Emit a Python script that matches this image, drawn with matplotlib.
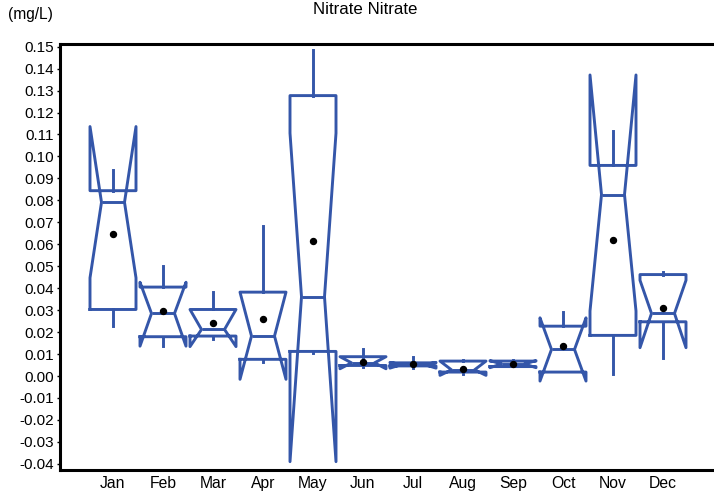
import matplotlib
matplotlib.use("Agg")
import matplotlib.pyplot as plt

plt.rcParams['font.family'] = ['Liberation Sans', 'DejaVu Sans']
plt.rcParams['axes.unicode_minus'] = False

months = ['Jan', 'Feb', 'Mar', 'Apr', 'May', 'Jun', 'Jul', 'Aug', 'Sep', 'Oct', 'Nov', 'Dec']
# box stats (mg/L)
q1     = [0.0303, 0.0179, 0.0182, 0.0076, 0.0112, 0.0048, 0.0046, 0.0018, 0.0043, 0.0018, 0.0185, 0.0247]
q3     = [0.0844, 0.0405, 0.0303, 0.0382, 0.1277, 0.0088, 0.0060, 0.0068, 0.0068, 0.0227, 0.0959, 0.0462]
median = [0.0791, 0.0285, 0.0212, 0.0182, 0.0361, 0.0060, 0.0052, 0.0028, 0.0055, 0.0121, 0.0826, 0.0285]
ci_lo  = [0.0447, 0.0136, 0.0134, -0.0015, -0.0390, 0.0033, 0.0036, 0.0003, 0.0038, -0.0023, 0.0296, 0.0129]
ci_hi  = [0.1136, 0.0427, 0.0303, 0.0382, 0.1106, 0.0088, 0.0062, 0.0068, 0.0070, 0.0265, 0.1371, 0.0436]
whis_lo = [0.0230, 0.0136, 0.0167, 0.0065, 0.0106, 0.0040, 0.0036, 0.0010, 0.0040, 0.0018, 0.0011, 0.0084]
whis_hi = [0.0940, 0.0503, 0.0382, 0.0685, 0.1485, 0.0121, 0.0088, 0.0075, 0.0075, 0.0293, 0.1114, 0.0473]
mean   = [0.0647, 0.0297, 0.0243, 0.0258, 0.0617, 0.0064, 0.0053, 0.0034, 0.0053, 0.0135, 0.0621, 0.0309]

stats = []
for i in range(len(months)):
    stats.append(dict(med=median[i], q1=q1[i], q3=q3[i], cilo=ci_lo[i], cihi=ci_hi[i],
                      whislo=whis_lo[i], whishi=whis_hi[i], mean=mean[i], fliers=[], label=months[i]))

blue = '#3456a9'
fig = plt.figure(figsize=(7.14, 4.93), dpi=100)
ax = fig.add_axes([60/714, 1-470/493, 1-60/714, (470-44)/493])

lp = dict(color=blue, linewidth=2.1)
ax.bxp(stats, positions=range(1, 13), widths=0.92, shownotches=True, showmeans=True,
       showcaps=False, showfliers=False,
       boxprops=lp, whiskerprops=lp, medianprops=lp,
       meanprops=dict(marker='o', markerfacecolor='black', markeredgecolor='black', markersize=4.3))

ax.set_xlim(-0.06, 13.02)
ax.set_ylim(-0.0428, 0.1512)
ax.set_yticks([i/100 for i in range(-4, 16)])
ax.set_yticklabels(['%.2f' % (i/100) for i in range(-4, 16)], fontsize=11)
ax.set_xticks(range(1, 13))
ax.set_xticklabels(months, fontsize=11.3)
ax.tick_params(axis='x', length=0, pad=4)
ax.tick_params(axis='y', length=2.5, width=1, direction='out', pad=2)

ax.spines['right'].set_visible(False)
for s in ['left', 'top', 'bottom']:
    ax.spines[s].set_linewidth(2.2)

fig.text(365/714, 1-9/493, 'Nitrate Nitrate', ha='center', va='center', fontsize=12.2)
fig.text(8/714, 1-14/493, '(mg/L)', ha='left', va='center', fontsize=11.2)

fig.savefig('out.png', dpi=100)
